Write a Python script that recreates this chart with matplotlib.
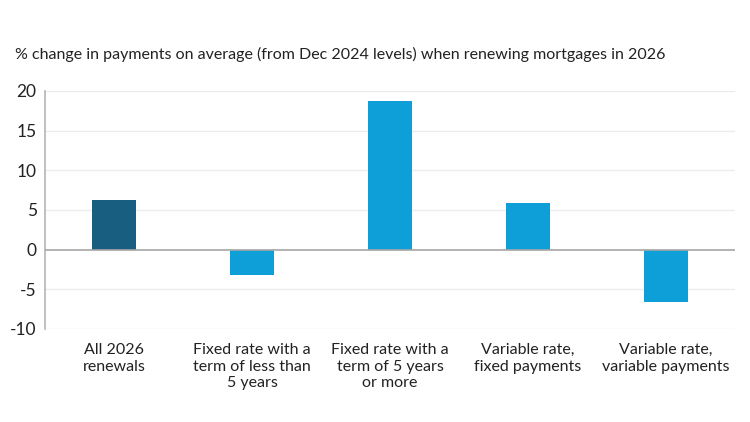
import numpy as np
import matplotlib.pyplot as plt

plt.rcParams['font.family'] = ['Lato', 'DejaVu Sans']

categories = ["All 2026\nrenewals",
              "Fixed rate with a\nterm of less than\n5 years",
              "Fixed rate with a\nterm of 5 years\nor more",
              "Variable rate,\nfixed payments",
              "Variable rate,\nvariable payments"]
values = [6.3, -3.2, 18.8, 5.9, -6.6]
bar_colors = ["#175e80", "#0f9fd8", "#0f9fd8", "#0f9fd8", "#0f9fd8"]
y_ticks = [-10, -5, 0, 5, 10, 15, 20]

fig = plt.figure(figsize=(7.5, 4.22), dpi=100)
ax = fig.add_axes([0.06, 0.2204, 0.92, 0.564])

x = np.arange(len(categories))
ax.bar(x, values, width=0.32, color=bar_colors, zorder=3)

ax.set_xlim(-0.5, len(categories) - 0.5)
ax.set_ylim(-10, 20)
ax.set_yticks(y_ticks)
ax.set_yticklabels([str(t) for t in y_ticks], fontsize=12.5, color="#222222")
ax.set_xticks(x)
ax.set_xticklabels(categories, fontsize=11.5, color="#222222", linespacing=1.25)
ax.tick_params(axis='both', length=0, pad=6)
ax.tick_params(axis='x', pad=10)

for t in y_ticks:
    if t != 0:
        ax.axhline(t, color="#ececec", linewidth=1, zorder=1)
ax.axhline(0, color="#a6a6a6", linewidth=1.2, zorder=4)

for s in ["top", "right", "bottom"]:
    ax.spines[s].set_visible(False)
ax.spines["left"].set_color("#b5b5b5")
ax.spines["left"].set_linewidth(1.2)

fig.text(0.02, 0.87, "% change in payments on average (from Dec 2024 levels) when renewing mortgages in 2026",
         fontsize=11.5, color="#222222", va="center", ha="left")

fig.savefig("out.png", dpi=100)
